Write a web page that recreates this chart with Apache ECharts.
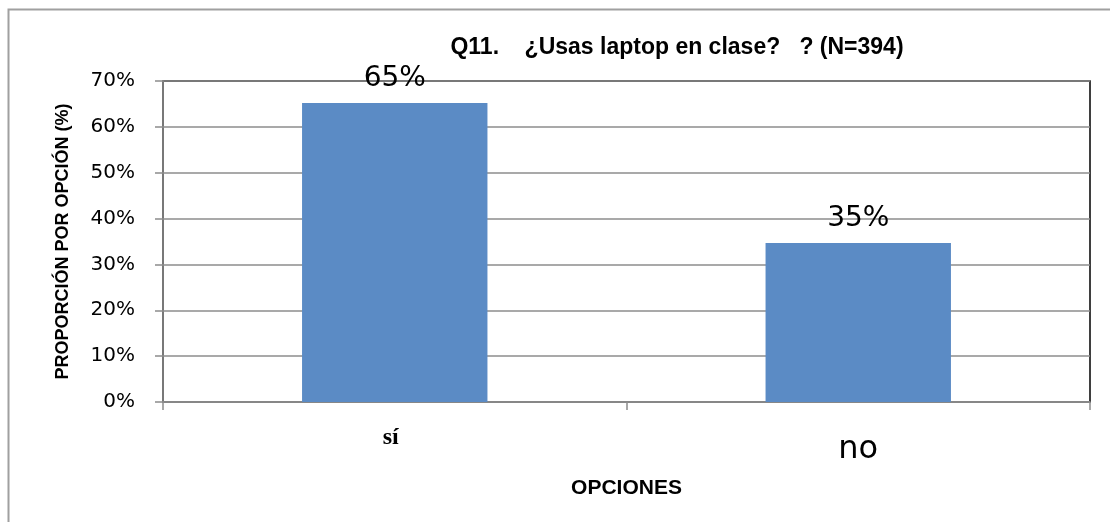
<!DOCTYPE html>
<html>
<head>
<meta charset="utf-8">
<script src="https://cdn.jsdelivr.net/npm/echarts@6/dist/echarts.min.js"></script>
<style>
html,body{margin:0;padding:0;background:#fff;}
#mychart{width:1110px;height:522px;}
</style>
</head>
<body>
<div id="mychart"></div>
<script>
// datos
var categorias = ['sí', 'no'];
var valores = [65.2, 34.7];
var ticksY = [0, 10, 20, 30, 40, 50, 60, 70];

var myChart = echarts.init(document.getElementById('mychart'));
var option = {
    backgroundColor: '#ffffff',
    animation: false,
    title: {
        text: 'Q11.    ¿Usas laptop en clase?   ? (N=394)',
        left: 672,
        textAlign: 'center',
        top: 31,
        textStyle: {
            fontFamily: 'Liberation Sans, sans-serif',
            fontWeight: 'bold',
            fontSize: 23,
            color: '#000'
        }
    },
    graphic: [{
        type: 'polyline',
        shape: { points: [[8.5, 522], [8.5, 9.5], [1110, 9.5]] },
        style: { stroke: '#a0a0a0', lineWidth: 2, fill: null },
        silent: true
    }],
    grid: {
        left: 163,
        right: 20,
        top: 81,
        bottom: 120,
        show: true,
        borderColor: '#000',
        borderWidth: 1.5
    },
    xAxis: {
        type: 'category',
        data: categorias,
        name: 'OPCIONES',
        nameLocation: 'middle',
        nameGap: 76,
        nameTextStyle: {
            fontFamily: 'Liberation Sans, sans-serif',
            fontWeight: 'bold',
            fontSize: 21,
            color: '#000'
        },
        axisLine: { lineStyle: { color: '#8c8c8c', width: 1.5 } },
        axisTick: { show: true, length: 8, lineStyle: { color: '#8c8c8c', width: 1.5 } },
        axisLabel: {
            margin: 24,
            formatter: function (v) {
                return v === 'sí' ? '{si|' + v + '}' : '{no|' + v + '}';
            },
            rich: {
                si: {
                    fontFamily: 'Liberation Serif, serif',
                    fontWeight: 'bold',
                    fontSize: 24,
                    color: '#000',
                    padding: [0, 8, 0, 0]
                },
                no: {
                    fontFamily: 'DejaVu Sans, sans-serif',
                    fontSize: 32,
                    color: '#000',
                    padding: [8, 0, 0, 0]
                }
            }
        }
    },
    yAxis: {
        type: 'value',
        min: ticksY[0],
        max: ticksY[ticksY.length - 1],
        interval: 10,
        name: 'PROPORCIÓN POR OPCIÓN (%)',
        nameLocation: 'middle',
        nameRotate: 90,
        nameGap: 91,
        nameTextStyle: {
            fontFamily: 'Liberation Sans, sans-serif',
            fontWeight: 'bold',
            fontSize: 18,
            color: '#000'
        },
        axisLine: { show: true, lineStyle: { color: '#8c8c8c', width: 1.5 } },
        axisTick: { show: true, length: 8, lineStyle: { color: '#8c8c8c', width: 1.5 } },
        splitLine: { show: true, lineStyle: { color: '#8c8c8c', width: 1.5 } },
        axisLabel: {
            margin: 28,
            formatter: '{value}%',
            fontFamily: 'DejaVu Sans, sans-serif',
            fontSize: 20,
            color: '#000'
        }
    },
    series: [{
        type: 'bar',
        data: valores,
        barWidth: '40%',
        itemStyle: { color: '#5b8bc5' },
        label: {
            show: true,
            position: 'top',
            distance: 10,
            formatter: function (p) { return Math.round(p.value) + '%'; },
            fontFamily: 'DejaVu Sans, sans-serif',
            fontSize: 28,
            color: '#000'
        },
        z: 1
    }]
};
myChart.setOption(option, true);
</script>
</body>
</html>
